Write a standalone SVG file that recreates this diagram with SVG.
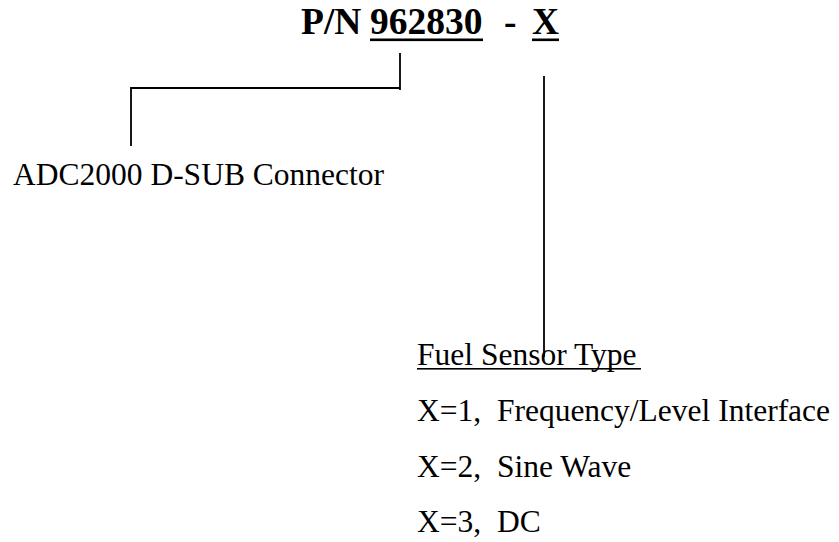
<svg xmlns="http://www.w3.org/2000/svg" width="839" height="542" viewBox="0 0 839 542">
<style>
.t{font-family:"Liberation Serif","Times New Roman",serif;fill:#000}
.b{font-weight:bold;font-size:37.5px}
.r{font-size:31.5px}
.ln{stroke:#000;stroke-width:1.8;fill:none}
</style>
<rect width="839" height="542" fill="#fff"/>
<g id="title">
<text class="t b" x="301" y="34">P/N</text>
<text class="t b" x="370" y="34">962830</text>
<rect x="370" y="38.5" width="113" height="2.6" fill="#000"/>
<text class="t b" x="504" y="34">-</text>
<text class="t b" x="532" y="34">X</text>
<rect x="532" y="38.5" width="27" height="2.6" fill="#000"/>
</g>
<g id="connectors">
<path class="ln" d="M400,53 V90 M400,88 H131 V146"/>
<path class="ln" d="M544,76 V357"/>
</g>
<g id="connector-label">
<text class="t r" x="13" y="185">ADC2000 D-SUB Connector</text>
</g>
<g id="sensor-type">
<text class="t r" x="417" y="365">Fuel Sensor Type</text>
<rect x="417" y="368" width="224" height="1.6" fill="#000"/>
<text class="t r" x="417" y="421" xml:space="preserve">X=1,  Frequency/Level Interface</text>
<text class="t r" x="417" y="477" xml:space="preserve">X=2,  Sine Wave</text>
<text class="t r" x="417" y="532" xml:space="preserve">X=3,  DC</text>
</g>
</svg>
